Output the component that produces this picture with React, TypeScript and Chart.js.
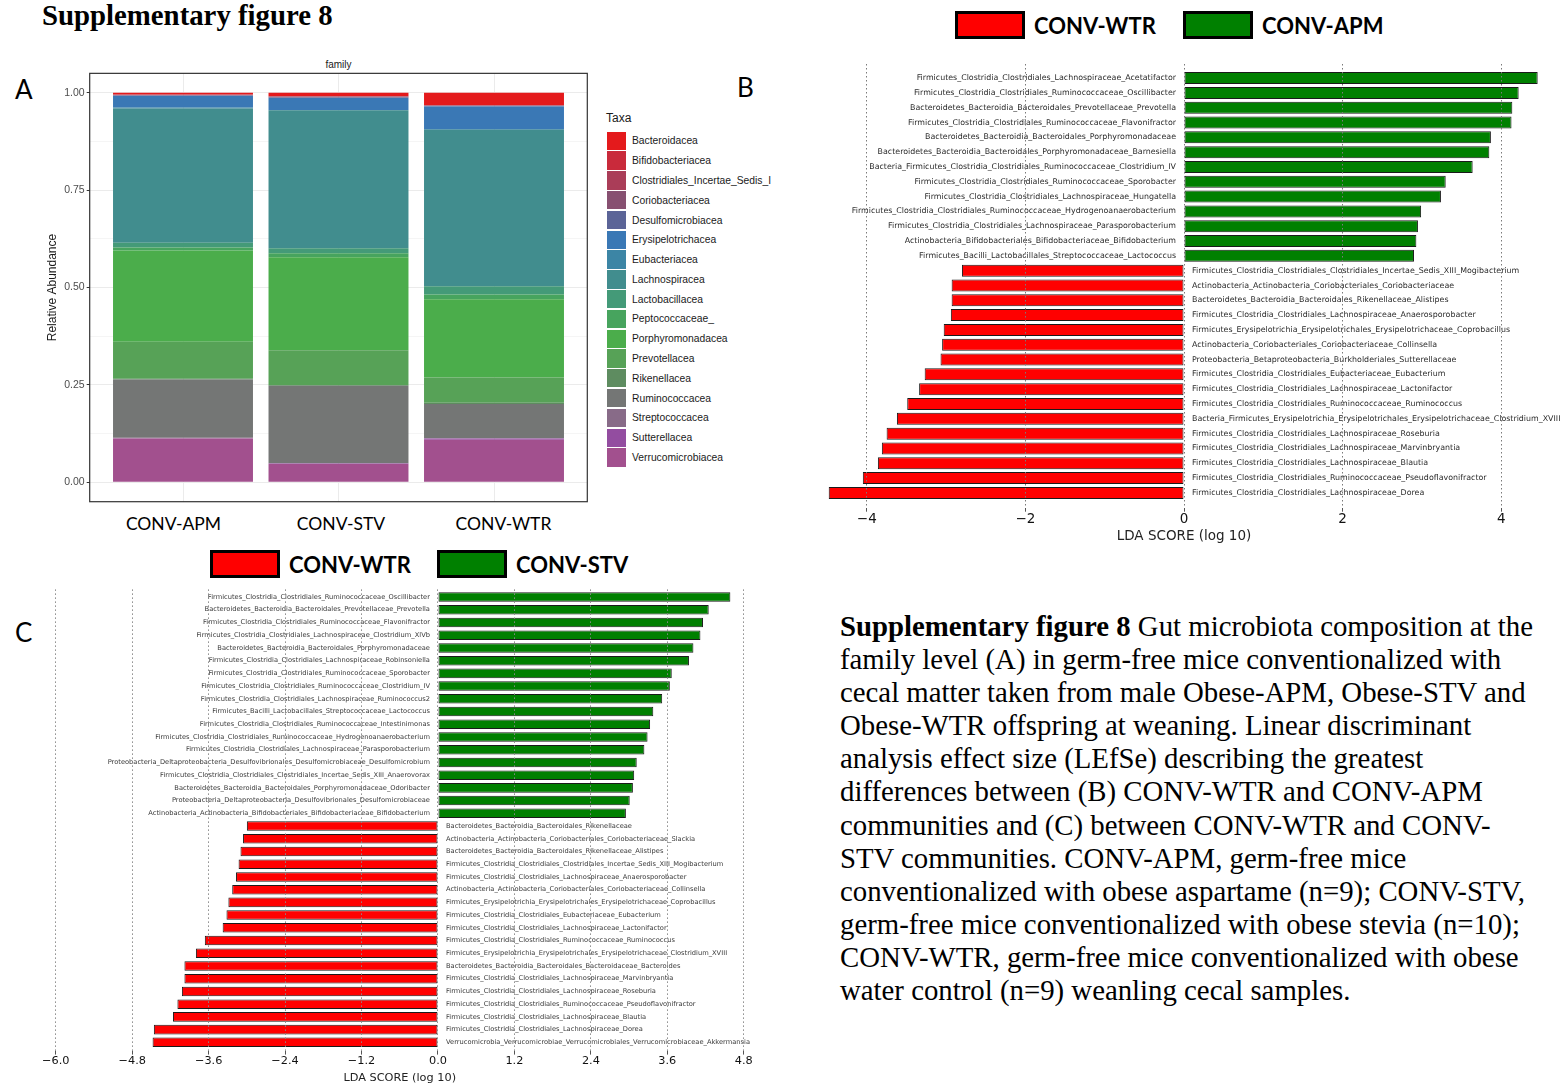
import React, { useEffect, useRef } from "react";
import { Chart, registerables } from "chart.js";

Chart.register(...registerables);

// ---------- Panel A: family-level relative abundance ----------
const groups = ["CONV-APM", "CONV-STV", "CONV-WTR"];
const taxa = [
  "Bacteroidacea",
  "Bifidobacteriacea",
  "Clostridiales_Incertae_Sedis_I",
  "Coriobacteriacea",
  "Desulfomicrobiacea",
  "Erysipelotrichacea",
  "Eubacteriacea",
  "Lachnospiracea",
  "Lactobacillacea",
  "Peptococcaceae_",
  "Porphyromonadacea",
  "Prevotellacea",
  "Rikenellacea",
  "Ruminococcacea",
  "Streptococcacea",
  "Sutterellacea",
  "Verrucomicrobiacea",
];
const taxaColors = [
  "#E41A1C", "#C92A3B", "#AA3D58", "#875071", "#5B6497", "#3A78B5",
  "#3C85A5", "#418D8E", "#449A78", "#47A45E", "#4BAD4B", "#57A257",
  "#5E8C60", "#747675", "#886B88", "#934DA0", "#A2508E",
];
const abundanceAPM = [0.004, 0.001, 0.001, 0.001, 0.001, 0.030, 0.002, 0.345, 0.012, 0.008, 0.234, 0.095, 0.002, 0.150, 0.001, 0.001, 0.112];
const abundanceSTV = [0.008, 0.001, 0.001, 0.002, 0.001, 0.031, 0.001, 0.354, 0.013, 0.010, 0.239, 0.089, 0.002, 0.199, 0.001, 0.001, 0.047];
const abundanceWTR = [0.031, 0.001, 0.001, 0.001, 0.001, 0.058, 0.002, 0.402, 0.021, 0.012, 0.201, 0.065, 0.003, 0.088, 0.001, 0.003, 0.109];
const abundanceTicks = [0, 0.25, 0.5, 0.75, 1.0];

// ---------- Panel B: LEfSe CONV-WTR vs CONV-APM ----------
const wtrApmNames = [
  "Firmicutes_Clostridia_Clostridiales_Lachnospiraceae_Acetatifactor",
  "Firmicutes_Clostridia_Clostridiales_Ruminococcaceae_Oscillibacter",
  "Bacteroidetes_Bacteroidia_Bacteroidales_Prevotellaceae_Prevotella",
  "Firmicutes_Clostridia_Clostridiales_Ruminococcaceae_Flavonifractor",
  "Bacteroidetes_Bacteroidia_Bacteroidales_Porphyromonadaceae",
  "Bacteroidetes_Bacteroidia_Bacteroidales_Porphyromonadaceae_Barnesiella",
  "Bacteria_Firmicutes_Clostridia_Clostridiales_Ruminococcaceae_Clostridium_IV",
  "Firmicutes_Clostridia_Clostridiales_Ruminococcaceae_Sporobacter",
  "Firmicutes_Clostridia_Clostridiales_Lachnospiraceae_Hungatella",
  "Firmicutes_Clostridia_Clostridiales_Ruminococcaceae_Hydrogenoanaerobacterium",
  "Firmicutes_Clostridia_Clostridiales_Lachnospiraceae_Parasporobacterium",
  "Actinobacteria_Bifidobacteriales_Bifidobacteriaceae_Bifidobacterium",
  "Firmicutes_Bacilli_Lactobacillales_Streptococcaceae_Lactococcus",
  "Firmicutes_Clostridia_Clostridiales_Clostridiales_Incertae_Sedis_XIII_Mogibacterium",
  "Actinobacteria_Actinobacteria_Coriobacteriales_Coriobacteriaceae",
  "Bacteroidetes_Bacteroidia_Bacteroidales_Rikenellaceae_Alistipes",
  "Firmicutes_Clostridia_Clostridiales_Lachnospiraceae_Anaerosporobacter",
  "Firmicutes_Erysipelotrichia_Erysipelotrichales_Erysipelotrichaceae_Coprobacillus",
  "Actinobacteria_Coriobacteriales_Coriobacteriaceae_Collinsella",
  "Proteobacteria_Betaproteobacteria_Burkholderiales_Sutterellaceae",
  "Firmicutes_Clostridia_Clostridiales_Eubacteriaceae_Eubacterium",
  "Firmicutes_Clostridia_Clostridiales_Lachnospiraceae_Lactonifactor",
  "Firmicutes_Clostridia_Clostridiales_Ruminococcaceae_Ruminococcus",
  "Bacteria_Firmicutes_Erysipelotrichia_Erysipelotrichales_Erysipelotrichaceae_Clostridium_XVIII",
  "Firmicutes_Clostridia_Clostridiales_Lachnospiraceae_Roseburia",
  "Firmicutes_Clostridia_Clostridiales_Lachnospiraceae_Marvinbryantia",
  "Firmicutes_Clostridia_Clostridiales_Lachnospiraceae_Blautia",
  "Firmicutes_Clostridia_Clostridiales_Ruminococcaceae_Pseudoflavonifractor",
  "Firmicutes_Clostridia_Clostridiales_Lachnospiraceae_Dorea",
];
const wtrApmScores = [
  4.46, 4.22, 4.14, 4.13, 3.87, 3.85, 3.64, 3.30, 3.24, 2.99, 2.95, 2.93, 2.90,
  -2.80, -2.93, -2.93, -2.94, -3.03, -3.05, -3.07, -3.27, -3.34, -3.49, -3.62, -3.75, -3.81, -3.86, -4.05, -4.48,
];
const wtrApmTicks = [-4, -2, 0, 2, 4];

// ---------- Panel C: LEfSe CONV-WTR vs CONV-STV ----------
const wtrStvNames = [
  "Firmicutes_Clostridia_Clostridiales_Ruminococcaceae_Oscillibacter",
  "Bacteroidetes_Bacteroidia_Bacteroidales_Prevotellaceae_Prevotella",
  "Firmicutes_Clostridia_Clostridiales_Ruminococcaceae_Flavonifractor",
  "Firmicutes_Clostridia_Clostridiales_Lachnospiraceae_Clostridium_XlVb",
  "Bacteroidetes_Bacteroidia_Bacteroidales_Porphyromonadaceae",
  "Firmicutes_Clostridia_Clostridiales_Lachnospiraceae_Robinsoniella",
  "Firmicutes_Clostridia_Clostridiales_Ruminococcaceae_Sporobacter",
  "Firmicutes_Clostridia_Clostridiales_Ruminococcaceae_Clostridium_IV",
  "Firmicutes_Clostridia_Clostridiales_Lachnospiraceae_Ruminococcus2",
  "Firmicutes_Bacilli_Lactobacillales_Streptococcaceae_Lactococcus",
  "Firmicutes_Clostridia_Clostridiales_Ruminococcaceae_Intestinimonas",
  "Firmicutes_Clostridia_Clostridiales_Ruminococcaceae_Hydrogenoanaerobacterium",
  "Firmicutes_Clostridia_Clostridiales_Lachnospiraceae_Parasporobacterium",
  "Proteobacteria_Deltaproteobacteria_Desulfovibrionales_Desulfomicrobiaceae_Desulfomicrobium",
  "Firmicutes_Clostridia_Clostridiales_Clostridiales_Incertae_Sedis_XIII_Anaerovorax",
  "Bacteroidetes_Bacteroidia_Bacteroidales_Porphyromonadaceae_Odoribacter",
  "Proteobacteria_Deltaproteobacteria_Desulfovibrionales_Desulfomicrobiaceae",
  "Actinobacteria_Actinobacteria_Bifidobacteriales_Bifidobacteriaceae_Bifidobacterium",
  "Bacteroidetes_Bacteroidia_Bacteroidales_Rikenellaceae",
  "Actinobacteria_Actinobacteria_Coriobacteriales_Coriobacteriaceae_Slackia",
  "Bacteroidetes_Bacteroidia_Bacteroidales_Rikenellaceae_Alistipes",
  "Firmicutes_Clostridia_Clostridiales_Clostridiales_Incertae_Sedis_XIII_Mogibacterium",
  "Firmicutes_Clostridia_Clostridiales_Lachnospiraceae_Anaerosporobacter",
  "Actinobacteria_Actinobacteria_Coriobacteriales_Coriobacteriaceae_Collinsella",
  "Firmicutes_Erysipelotrichia_Erysipelotrichales_Erysipelotrichaceae_Coprobacillus",
  "Firmicutes_Clostridia_Clostridiales_Eubacteriaceae_Eubacterium",
  "Firmicutes_Clostridia_Clostridiales_Lachnospiraceae_Lactonifactor",
  "Firmicutes_Clostridia_Clostridiales_Ruminococcaceae_Ruminococcus",
  "Firmicutes_Erysipelotrichia_Erysipelotrichales_Erysipelotrichaceae_Clostridium_XVIII",
  "Bacteroidetes_Bacteroidia_Bacteroidales_Bacteroidaceae_Bacteroides",
  "Firmicutes_Clostridia_Clostridiales_Lachnospiraceae_Marvinbryantia",
  "Firmicutes_Clostridia_Clostridiales_Lachnospiraceae_Roseburia",
  "Firmicutes_Clostridia_Clostridiales_Ruminococcaceae_Pseudoflavonifractor",
  "Firmicutes_Clostridia_Clostridiales_Lachnospiraceae_Blautia",
  "Firmicutes_Clostridia_Clostridiales_Lachnospiraceae_Dorea",
  "Verrucomicrobia_Verrucomicrobiae_Verrucomicrobiales_Verrucomicrobiaceae_Akkermansia",
];
const wtrStvScores = [
  4.59, 4.25, 4.16, 4.12, 4.01, 3.94, 3.67, 3.64, 3.52, 3.38, 3.33, 3.29, 3.24, 3.12, 3.08, 3.06, 3.01, 2.95,
  -3.00, -3.06, -3.10, -3.13, -3.17, -3.23, -3.29, -3.32, -3.38, -3.66, -3.80, -3.98, -3.98, -4.02, -4.09, -4.16, -4.46, -4.48,
];
const wtrStvTicks = [-6.0, -4.8, -3.6, -2.4, -1.2, 0.0, 1.2, 2.4, 3.6, 4.8];

const captionLines = [
  " Gut microbiota composition at the",
  "family level (A) in germ-free mice conventionalized with",
  "cecal matter taken from male Obese-APM, Obese-STV and",
  "Obese-WTR offspring at weaning. Linear discriminant",
  "analysis effect size (LEfSe) describing the greatest",
  "differences between (B) CONV-WTR and CONV-APM",
  "communities and (C) between CONV-WTR and CONV-",
  "STV communities. CONV-APM, germ-free mice",
  "conventionalized with obese aspartame (n=9); CONV-STV,",
  "germ-free mice conventionalized with obese stevia (n=10);",
  "CONV-WTR, germ-free mice conventionalized with obese",
  "water control (n=9) weanling cecal samples.",
];

const ENRICHED_GREEN = "#008000";
const ENRICHED_RED = "#ff0000";

// Draws the ggplot-style panel frame around the plotting area.
const panelFrame = {
  id: "panelFrame",
  afterDraw(chart: any, _args: any, opts: any) {
    const { ctx, chartArea } = chart;
    ctx.save();
    ctx.strokeStyle = opts.color;
    ctx.lineWidth = opts.width;
    ctx.strokeRect(chartArea.left, chartArea.top, chartArea.width, chartArea.height);
    ctx.restore();
  },
};

// Writes each taxon name beside the zero line, opposite to its bar.
const sideLabels = {
  id: "sideLabels",
  afterDatasetsDraw(chart: any, _args: any, opts: any) {
    const { ctx } = chart;
    const x0 = chart.scales.x.getPixelForValue(0);
    const names = chart.data.labels as string[];
    const points = chart.data.datasets[0].data as { x: number; y: number }[];
    const bars = chart.getDatasetMeta(0).data;
    ctx.save();
    ctx.font = opts.font;
    ctx.fillStyle = opts.color;
    ctx.textBaseline = "middle";
    bars.forEach((bar: any, i: number) => {
      const positive = points[i].x > 0;
      ctx.textAlign = positive ? "right" : "left";
      ctx.fillText(names[i], positive ? x0 - opts.gap : x0 + opts.gap, bar.y);
    });
    ctx.restore();
  },
};

function AbundanceChart() {
  const ref = useRef<HTMLCanvasElement>(null);
  useEffect(() => {
    const perGroup = [abundanceAPM, abundanceSTV, abundanceWTR];
    const gridLines = abundanceTicks.flatMap((v, i) =>
      i ? [(v + abundanceTicks[i - 1]) / 2, v] : [v]
    );
    const isMajor = (v: any) => abundanceTicks.includes(v);
    // first dataset sits at the bottom of the stack
    const order = taxa.map((_, i) => i).reverse();
    const chart = new Chart(ref.current!, {
      type: "bar",
      data: {
        datasets: order.map((t) => ({
          label: taxa[t],
          data: groups.map((_, g) => ({ x: g + 1, y: perGroup[g][t] })),
          backgroundColor: taxaColors[t],
          borderWidth: 0,
          barPercentage: 0.9,
          categoryPercentage: 1,
        })),
      },
      options: {
        responsive: false,
        animation: false,
        layout: { padding: { left: 0, top: 13.35, right: 12.7, bottom: 4.35 } },
        plugins: {
          legend: { display: false },
          tooltip: { enabled: false },
          panelFrame: { color: "#333333", width: 1.2 },
        } as any,
        scales: {
          x: {
            type: "linear",
            stacked: true,
            offset: false,
            min: 0.4,
            max: 3.6,
            bounds: "data",
            afterBuildTicks: (s: any) => {
              s.ticks = groups.map((_, i) => ({ value: i + 1 }));
            },
            afterFit: (s: any) => {
              s.height = 0;
            },
            ticks: { display: false },
            grid: { color: "#ebebeb", lineWidth: 1, drawTicks: false, offset: false },
            border: { display: false },
          },
          y: {
            type: "linear",
            stacked: true,
            min: -0.05,
            max: 1.05,
            bounds: "data",
            afterBuildTicks: (s: any) => {
              s.ticks = gridLines.map((v) => ({ value: v }));
            },
            afterFit: (s: any) => {
              s.width = 49.7;
            },
            ticks: {
              padding: 2,
              color: "#4d4d4d",
              font: { family: "Liberation Sans", size: 10.5 },
              callback: (v: any) => (isMajor(v) ? Number(v).toFixed(2) : ""),
            },
            grid: {
              color: (c: any) => (isMajor(c.tick?.value) ? "#ebebeb" : "#f5f5f5"),
              lineWidth: 1,
              tickLength: 3,
              tickColor: (c: any) => (isMajor(c.tick?.value) ? "#333333" : "rgba(0,0,0,0)"),
            },
            border: { display: false },
            title: {
              display: true,
              text: "Relative Abundance",
              color: "#1a1a1a",
              font: { family: "Liberation Sans", size: 12 },
              padding: { top: 5.8, bottom: 0 },
            },
          },
        },
      } as any,
      plugins: [panelFrame],
    });
    return () => chart.destroy();
  }, []);
  return (
    <canvas
      ref={ref}
      width={560}
      height={450}
      style={{ position: "absolute", left: 40, top: 60 }}
    />
  );
}

type LdaProps = {
  left: number;
  top: number;
  width: number;
  height: number;
  names: string[];
  scores: number[];
  ticks: number[];
  xMin: number;
  xMax: number;
  yMin: number;
  yMax: number;
  padding: { left: number; right: number; top: number; bottom: number };
  axisHeight: number;
  barFraction: number;
  labelFont: string;
  labelColor: string;
  tickSize: number;
  decimals: number;
  gridColor: string;
};

function LdaChart(p: LdaProps) {
  const ref = useRef<HTMLCanvasElement>(null);
  useEffect(() => {
    const fmt = (v: number) =>
      (v < 0 ? "\u2212" : "") + Math.abs(v).toFixed(p.decimals);
    const chart = new Chart(ref.current!, {
      type: "bar",
      data: {
        labels: p.names,
        datasets: [
          {
            data: p.scores.map((s, i) => ({ x: s, y: i })),
            backgroundColor: p.scores.map((s) => (s > 0 ? ENRICHED_GREEN : ENRICHED_RED)),
            borderColor: "#1a1a1a",
            borderWidth: 1,
            borderSkipped: false,
            barPercentage: p.barFraction,
            categoryPercentage: 1,
          },
        ],
      },
      options: {
        indexAxis: "y",
        responsive: false,
        animation: false,
        layout: { padding: p.padding },
        plugins: {
          legend: { display: false },
          tooltip: { enabled: false },
          sideLabels: { font: p.labelFont, color: p.labelColor, gap: 8 },
        } as any,
        scales: {
          y: {
            type: "linear",
            reverse: true,
            offset: false,
            min: p.yMin,
            max: p.yMax,
            bounds: "data",
            display: false,
            grid: { offset: false },
            afterBuildTicks: (s: any) => {
              s.ticks = p.names.map((_, i) => ({ value: i }));
            },
          },
          x: {
            type: "linear",
            min: p.xMin,
            max: p.xMax,
            bounds: "data",
            afterBuildTicks: (s: any) => {
              s.ticks = p.ticks.map((v) => ({ value: v }));
            },
            afterFit: (s: any) => {
              s.height = p.axisHeight;
            },
            ticks: {
              padding: 0,
              color: "#111111",
              maxRotation: 0,
              autoSkip: false,
              font: { family: "DejaVu Sans", size: p.tickSize },
              callback: (v: any) => fmt(Number(v)),
            },
            grid: {
              color: p.gridColor,
              lineWidth: 1,
              z: 1,
              tickLength: 4,
              tickColor: "#555555",
              tickBorderDash: [],
            },
            border: { display: false, dash: [1.5, 2.5] },
            title: {
              display: true,
              text: "LDA SCORE (log 10)",
              color: "#222222",
              font: { family: "DejaVu Sans", size: p.tickSize },
              padding: 0,
            },
          },
        },
      } as any,
      plugins: [sideLabels],
    });
    return () => chart.destroy();
  }, []);
  return (
    <canvas
      ref={ref}
      width={p.width}
      height={p.height}
      style={{ position: "absolute", left: p.left, top: p.top }}
    />
  );
}

function KeyItem({ left, top, color, label }: { left: number; top: number; color: string; label: string }) {
  return (
    <>
      <div
        style={{
          position: "absolute",
          left,
          top,
          width: 70,
          height: 28,
          boxSizing: "border-box",
          border: "3px solid #000",
          background: color,
        }}
      />
      <div
        style={{
          position: "absolute",
          left: left + 79,
          top,
          height: 28,
          display: "flex",
          alignItems: "center",
          font: 'bold 22px "Lato"',
          color: "#000",
          whiteSpace: "nowrap",
        }}
      >
        {label}
      </div>
    </>
  );
}

const abs = (left: number, top: number, extra: React.CSSProperties = {}): React.CSSProperties => ({
  position: "absolute",
  left,
  top,
  whiteSpace: "nowrap",
  ...extra,
});

export default function App() {
  const groupLabelCenters = [173.5, 341, 503.5];
  return (
    <div
      style={{
        position: "absolute",
        left: 0,
        top: 0,
        width: 1568,
        height: 1086,
        background: "#ffffff",
        overflow: "hidden",
      }}
    >
      <div style={abs(42, -1, { font: 'bold 28.8px "Liberation Serif"', color: "#000" })}>
        Supplementary figure 8
      </div>

      {/* panel letters */}
      <div style={abs(15, 73, { font: '26px "Lato"' })}>A</div>
      <div style={abs(737, 71, { font: '26px "Lato"' })}>B</div>
      <div style={abs(15, 616, { font: '26px "Lato"' })}>C</div>

      {/* Panel A */}
      <div style={abs(338.5, 59, { font: '10px "Liberation Sans"', color: "#1a1a1a", transform: "translateX(-50%)" })}>
        family
      </div>
      <AbundanceChart />
      {groups.map((g, i) => (
        <div
          key={g}
          style={abs(groupLabelCenters[i], 513, {
            font: '17.5px "Lato"',
            color: "#000",
            transform: "translateX(-50%)",
          })}
        >
          {g}
        </div>
      ))}
      <div style={abs(606, 111, { font: '12px "Liberation Sans"', color: "#1a1a1a" })}>Taxa</div>
      {taxa.map((t, i) => (
        <React.Fragment key={t}>
          <div
            style={abs(607, 131.7 + i * 19.79, {
              width: 18.5,
              height: 18.3,
              background: taxaColors[i],
            })}
          />
          <div
            style={abs(632, 131.7 + i * 19.79, {
              height: 18.3,
              display: "flex",
              alignItems: "center",
              font: '10.3px "Liberation Sans"',
              color: "#1a1a1a",
            })}
          >
            {t}
          </div>
        </React.Fragment>
      ))}

      {/* Panel B */}
      <KeyItem left={955} top={11} color={ENRICHED_RED} label="CONV-WTR" />
      <KeyItem left={1183} top={11} color={ENRICHED_GREEN} label="CONV-APM" />
      <LdaChart
        left={800}
        top={55}
        width={768}
        height={490}
        names={wtrApmNames}
        scores={wtrApmScores}
        ticks={wtrApmTicks}
        xMin={-4.6}
        xMax={4.6}
        yMin={-0.95}
        yMax={29.0}
        padding={{ left: 19.2, right: 19.2, top: 9, bottom: 0 }}
        axisHeight={37.3}
        barFraction={0.81}
        labelFont='7.9px "DejaVu Sans"'
        labelColor="#2b2b2b"
        tickSize={13.5}
        decimals={0}
        gridColor="#7a7a7a"
      />

      {/* Panel C */}
      <KeyItem left={210} top={550} color={ENRICHED_RED} label="CONV-WTR" />
      <KeyItem left={437} top={550} color={ENRICHED_GREEN} label="CONV-STV" />
      <LdaChart
        left={30}
        top={580}
        width={740}
        height={505}
        names={wtrStvNames}
        scores={wtrStvScores}
        ticks={wtrStvTicks}
        xMin={-6.15}
        xMax={4.95}
        yMin={-0.6}
        yMax={35.65}
        padding={{ left: 16.2, right: 16.7, top: 9.4, bottom: 0 }}
        axisHeight={34.4}
        barFraction={0.75}
        labelFont='6.7px "DejaVu Sans"'
        labelColor="#3a3a3a"
        tickSize={11.3}
        decimals={1}
        gridColor="#8a8a8a"
      />

      {/* Caption */}
      <div
        style={abs(840, 610, {
          font: '28.8px "Liberation Serif"',
          lineHeight: "33.1px",
          color: "#000",
        })}
      >
        {captionLines.map((line, i) => (
          <div key={i}>
            {i === 0 ? <b>Supplementary figure 8</b> : null}
            {line}
          </div>
        ))}
      </div>
    </div>
  );
}
